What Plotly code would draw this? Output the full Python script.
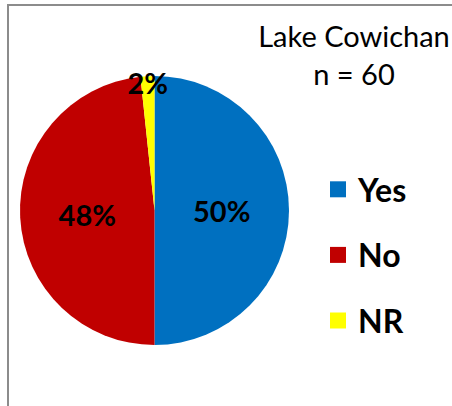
import plotly.graph_objects as go

categories = ["Yes", "No", "NR"]
counts = [30, 29, 1]
colors = ["#0070C0", "#C00000", "#FFFF00"]
title_lines = ["Lake Cowichan", "n = 60"]

W, H = 452, 406
FONT = "Lato"

fig = go.Figure()
fig.add_trace(go.Pie(
    labels=categories,
    values=counts,
    sort=False,
    direction="clockwise",
    rotation=0,
    marker=dict(colors=colors, line=dict(width=0)),
    texttemplate="%{percent:.0%}",
    textposition="inside",
    insidetextorientation="horizontal",
    textfont=dict(family=FONT, size=29, color="black", weight="bold"),
    domain=dict(x=[20 / W, 289 / W], y=[1 - 345 / H, 1 - 76 / H]),
    showlegend=False,
    hoverinfo="label+percent",
))

# legend entries (no data points; legend only)
for i, (c, col) in enumerate(zip(categories, colors)):
    fig.add_trace(go.Scatter(
        x=[None], y=[None], mode="markers", name=c,
        marker=dict(symbol="square", size=16, color=col),
        legendgroup=c, showlegend=True,
    ))

fig.update_layout(
    width=W, height=H,
    margin=dict(l=0, r=0, t=0, b=0),
    paper_bgcolor="white", plot_bgcolor="white",
    xaxis=dict(visible=False), yaxis=dict(visible=False),
    uniformtext=dict(minsize=29, mode="show"),
    title=dict(
        text="<br>".join(title_lines),
        x=354 / W, xanchor="center", y=1 - 47 / H, yanchor="top",
        font=dict(family=FONT, size=29, color="black"),
    ),
    legend=dict(
        x=318 / W, xanchor="left", y=1 - 162 / H, yanchor="top",
        font=dict(family=FONT, size=32, color="black", weight="bold"),
        tracegroupgap=21, traceorder="grouped",
        itemsizing="trace", bgcolor="rgba(0,0,0,0)",
    ),
    shapes=[dict(
        type="path", xref="paper", yref="paper",
        path=f"M {(W + 10) / W} {1 - 5 / H} L {8 / W} {1 - 5 / H} L {8 / W} -0.1",
        line=dict(color="#8c8c8c", width=2),
    )],
)

fig.write_html(
    "out.html",
    config={"displayModeBar": False},
    post_script="document.body.style.margin='0';",
)
